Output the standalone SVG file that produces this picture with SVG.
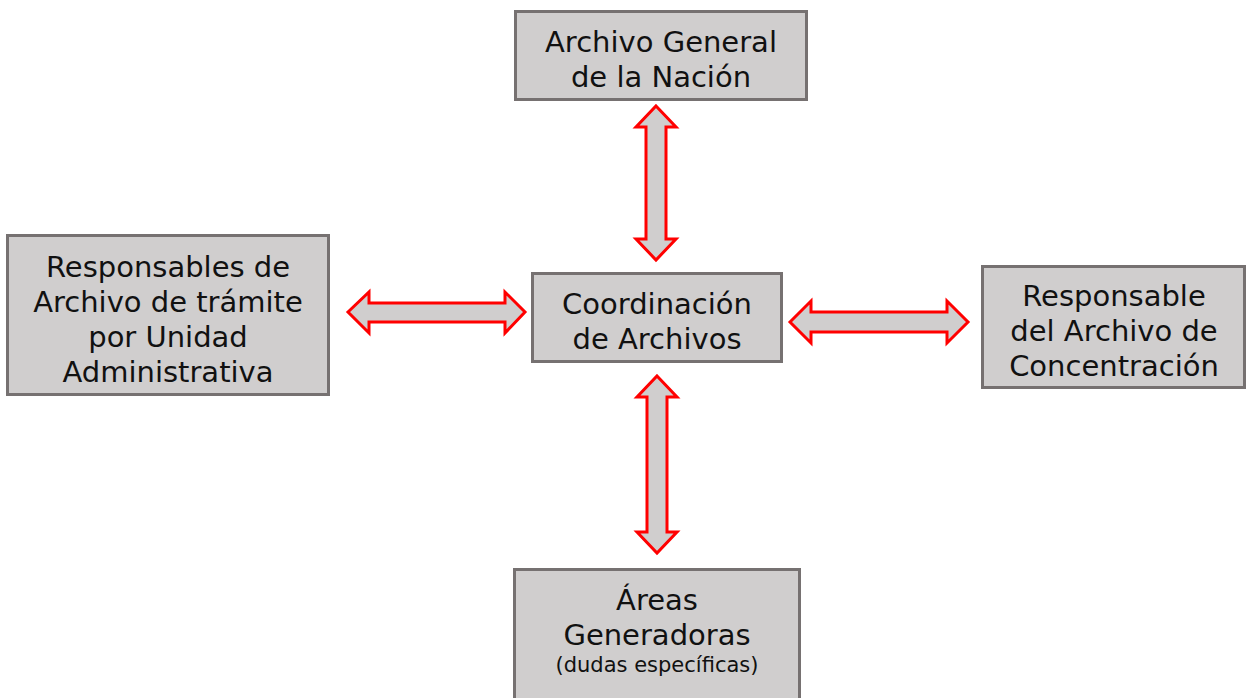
<svg xmlns="http://www.w3.org/2000/svg" width="1246" height="698" viewBox="0 0 1246 698">
<style>
.box{fill:#d0cece;stroke:#767171;stroke-width:3}
.t{font-family:"DejaVu Sans","Noto Sans",sans-serif;font-size:29px;fill:#111111;text-anchor:middle}
.s{font-size:21px}
.arr{fill:#d0cece;stroke:#ff0000;stroke-width:3;stroke-linejoin:miter}
</style>
<rect width="1246" height="698" fill="#ffffff"/>
<g id="connectors">
<path class="arr" d="M656,106 L676,127 L666,127 L666,239 L676,239 L656,260 L636,239 L646,239 L646,127 L636,127 Z"/>
<path class="arr" d="M657,376 L677,397 L667,397 L667,532 L677,532 L657,553 L637,532 L647,532 L647,397 L637,397 Z"/>
<path class="arr" d="M348,312 L369,292 L369,303 L505,303 L505,292 L525,312 L505,333 L505,322 L369,322 L369,333 Z"/>
<path class="arr" d="M790,322 L811,301 L811,312 L947,312 L947,301 L968,322 L947,343 L947,332 L811,332 L811,343 Z"/>
</g>
<g id="agn">
<rect class="box" x="515.5" y="11.5" width="291" height="88"/>
<text class="t" x="661" y="52">Archivo General</text>
<text class="t" x="661" y="87">de la Nación</text>
</g>
<g id="responsables-tramite">
<rect class="box" x="7.5" y="235.5" width="321" height="159"/>
<text class="t" x="168" y="277">Responsables de</text>
<text class="t" x="168" y="312">Archivo de trámite</text>
<text class="t" x="168" y="347">por Unidad</text>
<text class="t" x="168" y="382">Administrativa</text>
</g>
<g id="coordinacion">
<rect class="box" x="532.5" y="273.5" width="249" height="88"/>
<text class="t" x="657" y="314">Coordinación</text>
<text class="t" x="657" y="349">de Archivos</text>
</g>
<g id="concentracion">
<rect class="box" x="982.5" y="266.5" width="262" height="121"/>
<text class="t" x="1114" y="306">Responsable</text>
<text class="t" x="1114" y="341">del Archivo de</text>
<text class="t" x="1114" y="376">Concentración</text>
</g>
<g id="areas">
<rect class="box" x="514.5" y="569.5" width="285" height="140"/>
<text class="t" x="657" y="610">Áreas</text>
<text class="t" x="657" y="645">Generadoras</text>
<text class="t s" x="657" y="672">(dudas específicas)</text>
</g>
</svg>
